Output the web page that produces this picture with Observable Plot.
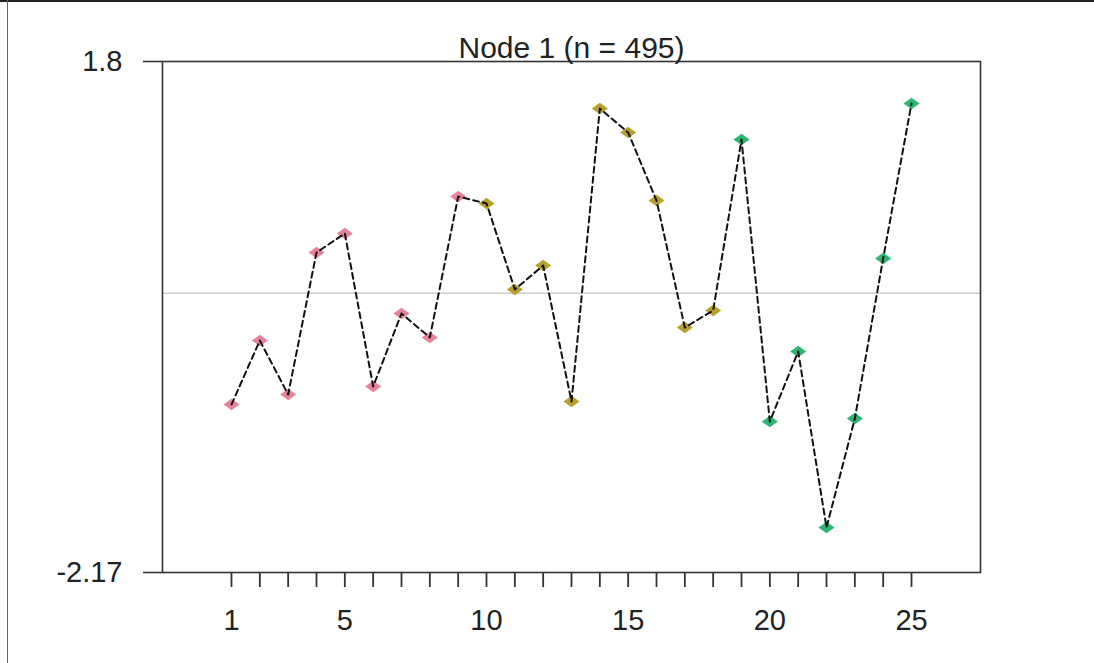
<!DOCTYPE html>
<html>
<head>
<meta charset="utf-8">
<script src="https://cdn.jsdelivr.net/npm/d3@7"></script>
<script src="https://cdn.jsdelivr.net/npm/@observablehq/plot@0.6"></script>
<style>
  html, body { margin: 0; padding: 0; background: #fff; }
  #wrap { position: relative; width: 1094px; height: 663px; overflow: hidden; }
  #topline { position: absolute; left: 0; top: 0; width: 1094px; height: 2px; background: #222; }
  #leftline { position: absolute; left: 7px; top: 0; width: 1px; height: 663px; background: #666; }
  #chart { position: absolute; left: 0; top: 0; }
  #chart svg text { font-family: "Liberation Sans", Arial, sans-serif; }
</style>
</head>
<body>
<div id="wrap"><div id="chart"></div><div id="topline"></div><div id="leftline"></div></div>
<script>
const titleText = "Node 1 (n = 495)";
const timePoints = [1,2,3,4,5,6,7,8,9,10,11,12,13,14,15,16,17,18,19,20,21,22,23,24,25];
const values = [-0.865,-0.368,-0.787,0.316,0.464,-0.725,-0.158,-0.344,0.751,0.697,
                0.029,0.215,-0.841,1.435,1.248,0.720,-0.267,-0.134,1.194,-0.997,
                -0.453,-1.820,-0.974,0.270,1.474];
const groups = ["a","a","a","a","a","a","a","a","a","b","b","b","b","b","b","b","b","b",
                "c","c","c","c","c","c","c"];
const groupNames = ["a","b","c"];
const groupColors = ["#E8829A","#B8A02E","#2BB673"];
const yTicks = [1.8, -2.17];
const xLabelTicks = [1,5,10,15,20,25];
const referenceLine = [0];

const data = timePoints.map((t, i) => ({t, v: values[i], g: groups[i]}));

const diamond = {
  draw(context, size) {
    const r = Math.sqrt(size / Math.PI);
    const w = r, h = r * 0.72;
    context.moveTo(0, -h);
    context.lineTo(w, 0);
    context.lineTo(0, h);
    context.lineTo(-w, 0);
    context.closePath();
  }
};

const chart = Plot.plot({
  width: 1094,
  height: 663,
  marginLeft: 162,
  marginRight: 114,
  marginTop: 61,
  marginBottom: 91,
  style: {background: "transparent", color: "#222"},
  x: {domain: [-1.435, 27.435], axis: null},
  y: {domain: [-2.17, 1.8], axis: null},
  color: {domain: groupNames, range: groupColors},
  marks: [
    Plot.ruleY(referenceLine, {stroke: "#cccccc", strokeWidth: 1.5}),
    Plot.dot(data, {x: "t", y: "v", fill: "g", symbol: diamond, r: 8, stroke: null}),
    Plot.line(data, {x: "t", y: "v", stroke: "#111", strokeWidth: 2, strokeDasharray: "6,4"}),
    Plot.frame({stroke: "#333", strokeWidth: 1.6}),
    Plot.axisY(yTicks, {anchor: "left", label: null, tickSize: 19, tickPadding: 21, tickFormat: d => String(d),
      fontSize: 29, stroke: "#333", strokeWidth: 1.6, fill: "#222"}),
    Plot.axisX(timePoints, {anchor: "bottom", label: null, tickSize: 15, tickFormat: () => "",
      stroke: "#333", strokeWidth: 1.8}),
    Plot.axisX(xLabelTicks, {anchor: "bottom", label: null, tickSize: 0, tickPadding: 37, tickFormat: d => String(d),
      fontSize: 29, fill: "#222"}),
    Plot.text([titleText], {frameAnchor: "top", dy: -4, text: d => d, fontSize: 30, fill: "#222", lineAnchor: "bottom"})
  ]
});
document.getElementById("chart").appendChild(chart);
</script>
</body>
</html>
